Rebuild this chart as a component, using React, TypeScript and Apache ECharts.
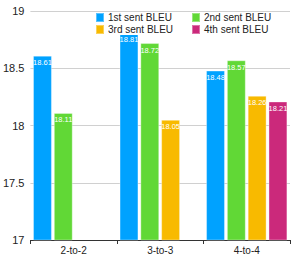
import React, { useEffect, useRef } from "react";
import * as echarts from "echarts";

const categories = ["2-to-2", "3-to-3", "4-to-4"];
const seriesNames = ["1st sent BLEU", "2nd sent BLEU", "3rd sent BLEU", "4th sent BLEU"];
const first = [18.61, 18.81, 18.48];
const second = [18.11, 18.72, 18.57];
const third = [null, 18.05, 18.26];
const fourth = [null, null, 18.21];
const colors = ["#00a2ff", "#61d836", "#f8ba00", "#cb297b"];
const yTicks = { min: 17, max: 19, interval: 0.5 };

const FONT = "Liberation Sans, Arial, sans-serif";

export default function App() {
  const ref = useRef<HTMLDivElement>(null);
  useEffect(() => {
    if (!ref.current) return;
    const chart = echarts.init(ref.current, null, { renderer: "svg" });
    const data = [first, second, third, fourth];
    const legendText = { fontSize: 10, color: "#222", fontFamily: FONT, lineHeight: 10, padding: [0, 0, 0, -1] };
    chart.setOption({
      animation: false,
      textStyle: { fontFamily: FONT },
      grid: { left: 30, right: 1, top: 11, bottom: 17, containLabel: false },
      legend: [
        {
          data: [seriesNames[0], seriesNames[2]],
          orient: "vertical",
          left: 95,
          top: 12,
          itemWidth: 8,
          itemHeight: 9,
          itemGap: 1,
          padding: 0,
          icon: "rect",
          backgroundColor: "#fff",
          textStyle: legendText,
        },
        {
          data: [seriesNames[1], seriesNames[3]],
          orient: "vertical",
          left: 191,
          top: 12,
          itemWidth: 8,
          itemHeight: 9,
          itemGap: 1,
          padding: 0,
          icon: "rect",
          backgroundColor: "#fff",
          textStyle: legendText,
        },
      ],
      xAxis: {
        type: "category",
        data: categories,
        axisLine: { lineStyle: { color: "#333", width: 1 } },
        axisTick: { show: true, length: 4, lineStyle: { color: "#333" } },
        axisLabel: { fontSize: 10, color: "#222", margin: 5, fontFamily: FONT },
      },
      yAxis: {
        type: "value",
        min: yTicks.min,
        max: yTicks.max,
        interval: yTicks.interval,
        axisLine: { show: false },
        axisTick: { show: false },
        axisLabel: { fontSize: 11, color: "#222", margin: 6, fontFamily: FONT },
        splitLine: { lineStyle: { color: "#d0d0d0", width: 1 } },
      },
      series: seriesNames.map((name, i) => ({
        name,
        type: "bar",
        data: data[i],
        barGap: "10%",
        barCategoryGap: "6%",
        itemStyle: { color: colors[i], borderColor: "rgba(255,255,255,0.35)", borderWidth: 1 },
        label: {
          show: true,
          position: "insideTop",
          distance: 3,
          color: "#fff",
          fontSize: 7.5,
          fontWeight: "normal",
          textBorderWidth: 0,
          textBorderColor: "transparent",
          fontFamily: FONT,
        },
      })),
    });
    return () => chart.dispose();
  }, []);
  return <div ref={ref} style={{ width: 291, height: 257, position: "absolute", left: 0, top: 0 }} />;
}
